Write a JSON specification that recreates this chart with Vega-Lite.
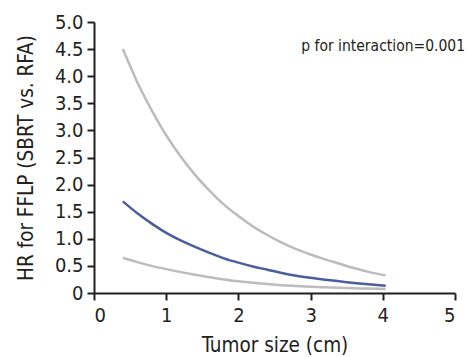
{
  "$schema": "https://vega.github.io/schema/vega-lite/v6.json",
  "width": 361,
  "height": 271,
  "autosize": {"type": "none"},
  "padding": {"left": 94, "top": 22, "right": 13, "bottom": 64},
  "config": {
    "view": {"stroke": null},
    "font": "DejaVu Sans Condensed, Roboto, sans-serif",
    "axis": {
      "grid": false,
      "domainColor": "#231f20",
      "domainWidth": 2,
      "tickColor": "#231f20",
      "tickWidth": 2,
      "tickSize": 7,
      "labelFont": "DejaVu Sans Condensed, Roboto, sans-serif",
      "labelFontSize": 20,
      "labelColor": "#231f20",
      "labelOverlap": false,
      "titleFont": "DejaVu Sans Condensed, Roboto, sans-serif",
      "titleFontSize": 20.5,
      "titleFontWeight": "normal",
      "titleColor": "#231f20"
    }
  },
  "data": {
    "values": [
      {"size": 0.4, "hr": 4.50, "curve": "upper"},
      {"size": 0.6, "hr": 3.89, "curve": "upper"},
      {"size": 0.8, "hr": 3.37, "curve": "upper"},
      {"size": 1.0, "hr": 2.91, "curve": "upper"},
      {"size": 1.2, "hr": 2.52, "curve": "upper"},
      {"size": 1.4, "hr": 2.18, "curve": "upper"},
      {"size": 1.6, "hr": 1.89, "curve": "upper"},
      {"size": 1.8, "hr": 1.63, "curve": "upper"},
      {"size": 2.0, "hr": 1.42, "curve": "upper"},
      {"size": 2.2, "hr": 1.23, "curve": "upper"},
      {"size": 2.4, "hr": 1.07, "curve": "upper"},
      {"size": 2.6, "hr": 0.93, "curve": "upper"},
      {"size": 2.8, "hr": 0.81, "curve": "upper"},
      {"size": 3.0, "hr": 0.71, "curve": "upper"},
      {"size": 3.2, "hr": 0.62, "curve": "upper"},
      {"size": 3.4, "hr": 0.54, "curve": "upper"},
      {"size": 3.6, "hr": 0.46, "curve": "upper"},
      {"size": 3.8, "hr": 0.39, "curve": "upper"},
      {"size": 4.04, "hr": 0.325, "curve": "upper"},
      {"size": 0.4, "hr": 1.69, "curve": "hr"},
      {"size": 0.6, "hr": 1.47, "curve": "hr"},
      {"size": 0.8, "hr": 1.28, "curve": "hr"},
      {"size": 1.0, "hr": 1.11, "curve": "hr"},
      {"size": 1.2, "hr": 0.97, "curve": "hr"},
      {"size": 1.4, "hr": 0.85, "curve": "hr"},
      {"size": 1.6, "hr": 0.74, "curve": "hr"},
      {"size": 1.8, "hr": 0.64, "curve": "hr"},
      {"size": 2.0, "hr": 0.56, "curve": "hr"},
      {"size": 2.2, "hr": 0.49, "curve": "hr"},
      {"size": 2.4, "hr": 0.43, "curve": "hr"},
      {"size": 2.6, "hr": 0.37, "curve": "hr"},
      {"size": 2.8, "hr": 0.32, "curve": "hr"},
      {"size": 3.0, "hr": 0.28, "curve": "hr"},
      {"size": 3.2, "hr": 0.245, "curve": "hr"},
      {"size": 3.4, "hr": 0.215, "curve": "hr"},
      {"size": 3.6, "hr": 0.185, "curve": "hr"},
      {"size": 3.8, "hr": 0.16, "curve": "hr"},
      {"size": 4.04, "hr": 0.135, "curve": "hr"},
      {"size": 0.4, "hr": 0.65, "curve": "lower"},
      {"size": 0.6, "hr": 0.57, "curve": "lower"},
      {"size": 0.8, "hr": 0.50, "curve": "lower"},
      {"size": 1.0, "hr": 0.44, "curve": "lower"},
      {"size": 1.2, "hr": 0.385, "curve": "lower"},
      {"size": 1.4, "hr": 0.335, "curve": "lower"},
      {"size": 1.6, "hr": 0.29, "curve": "lower"},
      {"size": 1.8, "hr": 0.25, "curve": "lower"},
      {"size": 2.0, "hr": 0.215, "curve": "lower"},
      {"size": 2.2, "hr": 0.19, "curve": "lower"},
      {"size": 2.4, "hr": 0.165, "curve": "lower"},
      {"size": 2.6, "hr": 0.145, "curve": "lower"},
      {"size": 2.8, "hr": 0.13, "curve": "lower"},
      {"size": 3.0, "hr": 0.115, "curve": "lower"},
      {"size": 3.2, "hr": 0.105, "curve": "lower"},
      {"size": 3.4, "hr": 0.095, "curve": "lower"},
      {"size": 3.6, "hr": 0.088, "curve": "lower"},
      {"size": 3.8, "hr": 0.081, "curve": "lower"},
      {"size": 4.04, "hr": 0.075, "curve": "lower"}
    ]
  },
  "layer": [
    {
      "mark": {"type": "line", "strokeWidth": 2.5, "interpolate": "monotone"},
      "encoding": {
        "x": {
          "field": "size", "type": "quantitative",
          "scale": {"domain": [0, 5], "nice": false},
          "axis": {"values": [0, 1, 2, 3, 4, 5], "format": "d", "title": "Tumor size (cm)", "labelPadding": 5, "titlePadding": 10}
        },
        "y": {
          "field": "hr", "type": "quantitative",
          "scale": {"domain": [0, 5], "nice": false},
          "axis": {
            "values": [0, 0.5, 1, 1.5, 2, 2.5, 3, 3.5, 4, 4.5, 5],
            "labelExpr": "datum.value == 0 ? '0' : format(datum.value, '.1f')",
            "title": "HR for FFLP (SBRT vs. RFA)",
            "labelPadding": 4,
            "titlePadding": 18
          }
        },
        "color": {
          "field": "curve", "type": "nominal",
          "scale": {"domain": ["upper", "hr", "lower"], "range": ["#bcbcbe", "#4a5f9b", "#bcbcbe"]},
          "legend": null
        },
        "detail": {"field": "curve"}
      }
    },
    {
      "data": {"values": [{"label": "p for interaction=0.001"}]},
      "mark": {"type": "text", "align": "right", "baseline": "alphabetic", "fontSize": 15.5, "font": "DejaVu Sans Condensed, Roboto, sans-serif", "color": "#231f20"},
      "encoding": {
        "x": {
          "datum": 5.14, "type": "quantitative",
          "axis": {"values": [0, 1, 2, 3, 4, 5], "format": "d", "title": "Tumor size (cm)", "labelPadding": 5, "titlePadding": 10}
        },
        "y": {
          "datum": 4.47, "type": "quantitative",
          "axis": {
            "values": [0, 0.5, 1, 1.5, 2, 2.5, 3, 3.5, 4, 4.5, 5],
            "labelExpr": "datum.value == 0 ? '0' : format(datum.value, '.1f')",
            "title": "HR for FFLP (SBRT vs. RFA)",
            "labelPadding": 4,
            "titlePadding": 18
          }
        },
        "text": {"field": "label"}
      }
    }
  ]
}
